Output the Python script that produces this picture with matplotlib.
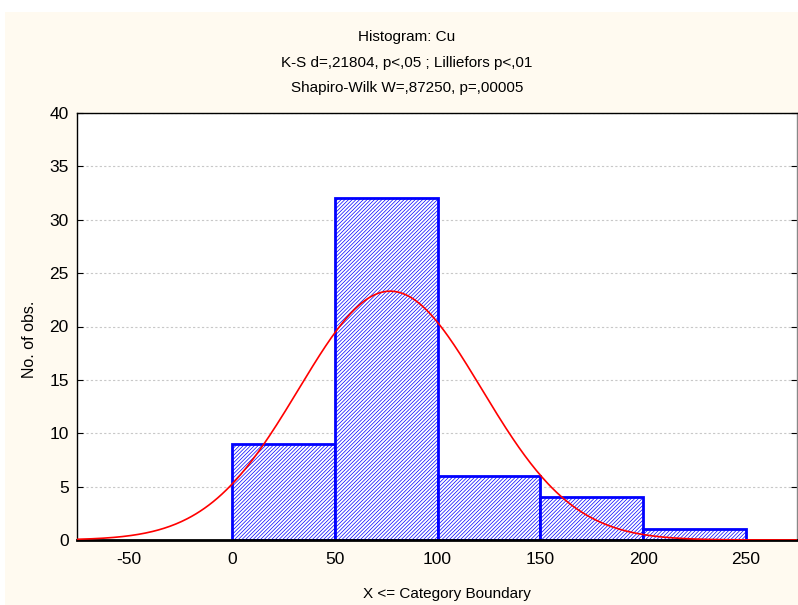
import numpy as np
import matplotlib.pyplot as plt

# histogram of Cu, bin edges and counts
bin_edges = [0, 50, 100, 150, 200, 250]
counts = [9, 32, 6, 4, 1]
# fitted normal curve parameters
mean_cu = 77.0
sd_cu = 44.5
title_lines = ["Histogram: Cu",
               "K-S d=,21804, p<,05 ; Lilliefors p<,01",
               "Shapiro-Wilk W=,87250, p=,00005"]

plt.rcParams['font.family'] = ['Liberation Sans', 'DejaVu Sans']
plt.rcParams['axes.unicode_minus'] = False
plt.rcParams['hatch.color'] = 'blue'
plt.rcParams['hatch.linewidth'] = 0.5

fig = plt.figure(figsize=(7.98, 6.05), dpi=100)
fig.patch.set_facecolor('white')
# cream panel behind the chart
bg = plt.Rectangle((5 / 798, 0), 1, 1 - 12 / 605, transform=fig.transFigure,
                   facecolor='#fffaf0', edgecolor='none', zorder=-10)
fig.patches.append(bg)

ax = fig.add_axes([77 / 798, 65 / 605, 720 / 798, 427 / 605])
ax.set_facecolor('white')

widths = np.diff(bin_edges)
ax.bar(bin_edges[:-1], counts, width=widths, align='edge', color='white',
       edgecolor='blue', linewidth=2, hatch='/' * 9, zorder=2)

n = sum(counts)
xs = np.linspace(-75, 275, 500)
ys = n * 50 / (sd_cu * np.sqrt(2 * np.pi)) * np.exp(-(xs - mean_cu) ** 2 / (2 * sd_cu ** 2))
ax.plot(xs, ys, color='red', lw=1.2, zorder=3)

ax.set_xlim(-75.3, 274.8)
ax.set_ylim(0, 40)
ax.set_xticks([-50, 0, 50, 100, 150, 200, 250])
ax.set_yticks(range(0, 41, 5))
ax.yaxis.grid(True, linestyle=(0, (2, 2)), color='#c8c8c8', lw=0.8, zorder=0)
ax.set_axisbelow(True)
ax.tick_params(axis='both', labelsize=12.5, length=4, direction='in')
ax.tick_params(axis='x', length=0, pad=9)
ax.tick_params(axis='y', right=True, pad=6)
for s in ax.spines.values():
    s.set_color('black')
    s.set_linewidth(1)
ax.spines['bottom'].set_linewidth(2)
ax.spines['right'].set_color('#888888')

fig.text(447 / 798, 1 - 594 / 605, "X <= Category Boundary", fontsize=11,
         ha='center', va='center')
fig.text(30 / 798, 1 - 339 / 605, "No. of obs.", fontsize=11.5,
         ha='center', va='center', rotation=90)

for i, t in enumerate(title_lines):
    fig.text(0.5 + 0.01, 1 - (37 + 25.5 * i) / 605, t, ha='center', va='center',
             fontsize=11)

fig.savefig('out.png', dpi=100, facecolor=fig.get_facecolor())
